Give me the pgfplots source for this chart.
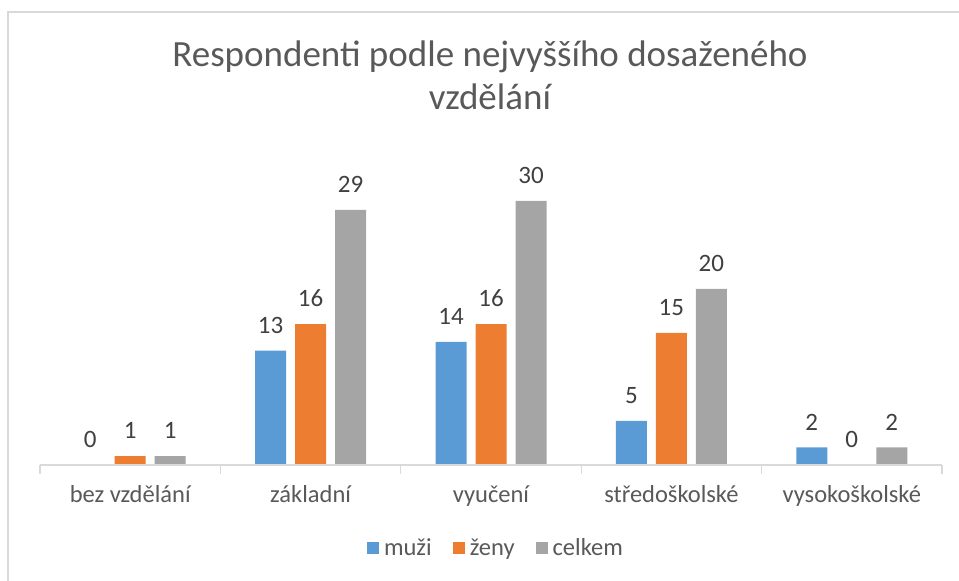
\documentclass[border=0pt]{standalone}
\usepackage{pgfplots}
\pgfplotsset{compat=1.18}
\usepackage{fontspec}
\setmainfont{Carlito}
\definecolor{cblue}{HTML}{5B9BD5}
\definecolor{corange}{HTML}{ED7D31}
\definecolor{cgray}{HTML}{A5A5A5}
\definecolor{ctext}{HTML}{595959}
\definecolor{clab}{HTML}{404040}
\definecolor{cline}{HTML}{D9D9D9}
\begin{document}
\begin{tikzpicture}[x=1pt,y=1pt]
\path[use as bounding box] (0,0) rectangle (959,581);
\draw[cline, line width=1.5pt] (8,-20) -- (8,569) -- (980,569);
\node[text=ctext, font=\fontsize{37}{43}\selectfont, align=center, anchor=north] at (490,544)
  {Respondenti podle nejvyššího dosaženého\\vzdělání};
\begin{axis}[
  at={(40pt,116pt)}, anchor=south west,
  scale only axis, width=902pt, height=308pt,
  xmin=-0.5, xmax=4.5, ymin=0, ymax=35,
  ybar, bar width=31pt,
  axis on top,
  axis x line*=bottom, axis y line=none,
  x axis line style={cline, line width=1.2pt, -},
  xtick={0,1,2,3,4},
  xticklabels={bez vzdělání, základní, vyučení, středoškolské, vysokoškolské},
  major tick length=0pt,
  xticklabel style={text=ctext, font=\fontsize{24.5}{28}\selectfont, yshift=-17pt},
  extra x ticks={-0.5,0.5,1.5,2.5,3.5,4.5},
  extra x tick labels={},
  extra x tick style={major tick length=9pt, tick align=outside, tick style={cline, line width=1.2pt}},
  ytick=\empty,
  /pgf/number format/assume math mode=true,
  nodes near coords,
  every node near coord/.append style={text=clab, font=\fontsize{25}{28}\selectfont, anchor=south, inner sep=0pt, yshift=17pt},
  legend style={at={(0.5055,-0.2695)}, anchor=center, draw=none, fill=none,
    legend columns=3, font=\fontsize{24.5}{28}\selectfont, text=ctext,
    /tikz/every even column/.append style={column sep=19pt},
    /tikz/every odd column/.append style={column sep=3pt},
    legend cell align=left},
  legend image code/.code={\fill[#1] (0pt,-6pt) rectangle (12pt,6pt);},
  clip=false,
]
\addplot[fill=cblue, draw=none, bar shift=-40pt] coordinates {(0,0) (1,13) (2,14) (3,5) (4,2)};
\addplot[fill=corange, draw=none, bar shift=0pt] coordinates {(0,1) (1,16) (2,16) (3,15) (4,0)};
\addplot[fill=cgray, draw=none, bar shift=40pt] coordinates {(0,1) (1,29) (2,30) (3,20) (4,2)};
\legend{muži, ženy, celkem}
\end{axis}
\end{tikzpicture}
\end{document}
